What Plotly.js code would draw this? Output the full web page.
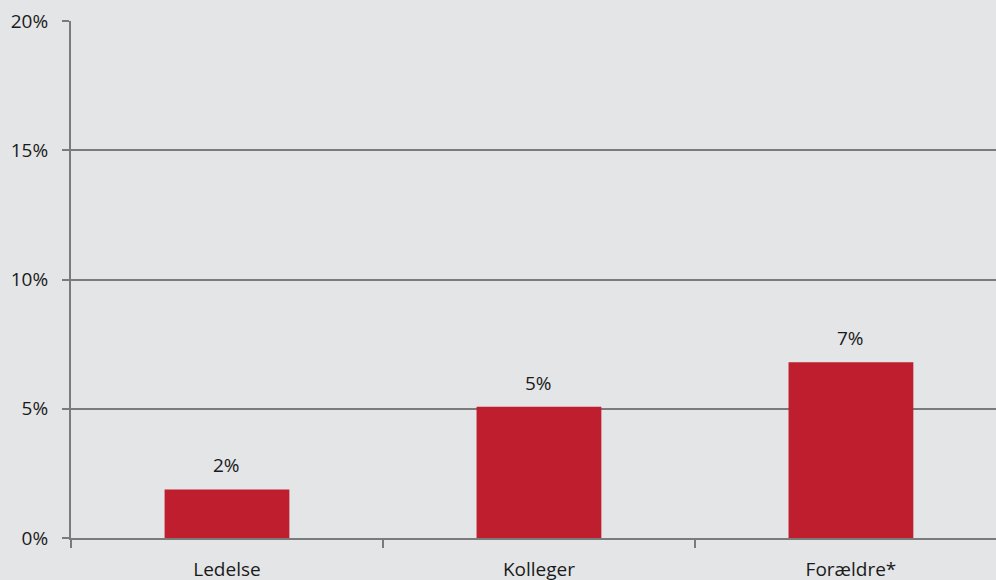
<!DOCTYPE html>
<html>
<head>
<meta charset="utf-8">
<script src="https://cdn.plot.ly/plotly-3.0.1.min.js"></script>
<style>html,body{margin:0;padding:0;background:#e4e5e7;}#chart{width:996px;height:580px;}</style>
</head>
<body>
<div id="chart"></div>
<script>
const categories = ["Ledelse", "Kolleger", "Forældre*"];
const values = [1.88, 5.08, 6.80];
const valueLabels = ["2%", "5%", "7%"];
const yTickVals = [0, 5, 10, 15, 20];
const yTickText = ["0%", "5%", "10%", "15%", "20%"];

const fontFam = "'Open Sans', 'Noto Sans', sans-serif";
const fs = 19;

const trace = {
  type: "bar",
  x: categories,
  y: values,
  width: 0.4,
  marker: {color: "#be1e2d", line: {width: 0}},
  hoverinfo: "none"
};

const annotations = categories.map((c, i) => ({
  x: c, y: values[i], text: valueLabels[i],
  showarrow: false, xanchor: "center", yanchor: "bottom", yshift: 9,
  font: {family: fontFam, size: fs, color: "#1a1a1a"}
}));

const layout = {
  width: 996, height: 580,
  margin: {l: 71, r: 0, t: 21, b: 42},
  paper_bgcolor: "#e4e5e7",
  plot_bgcolor: "#e4e5e7",
  showlegend: false,
  font: {family: fontFam, size: fs, color: "#1a1a1a"},
  xaxis: {
    type: "category",
    range: [-0.5, 2.465],
    showgrid: false,
    showline: true, linecolor: "#7b7b7b", linewidth: 2,
    ticks: "outside", tickson: "boundaries", ticklen: 8, tickwidth: 2, tickcolor: "#7b7b7b",
    tickfont: {family: fontFam, size: fs, color: "#1a1a1a"},
    ticklabelstandoff: 13,
    fixedrange: true
  },
  yaxis: {
    range: [0, 20],
    tickvals: yTickVals, ticktext: yTickText,
    showgrid: true, gridcolor: "#7b7b7b", gridwidth: 2,
    zeroline: false,
    showline: true, linecolor: "#7b7b7b", linewidth: 2,
    ticks: "outside", ticklen: 7, tickwidth: 2, tickcolor: "#7b7b7b",
    tickfont: {family: fontFam, size: fs, color: "#1a1a1a"},
    ticklabelstandoff: 10,
    fixedrange: true
  },
  annotations: annotations
};

Plotly.newPlot("chart", [trace], layout, {displayModeBar: false, staticPlot: true});
</script>
</body>
</html>
